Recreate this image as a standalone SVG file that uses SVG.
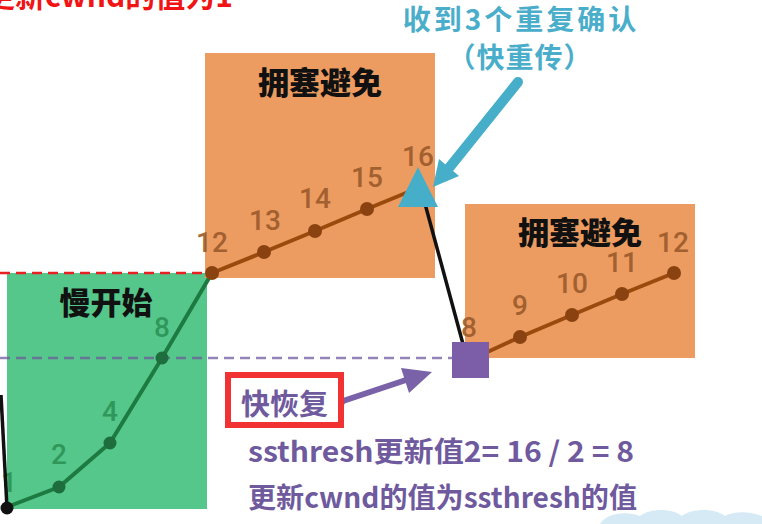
<svg xmlns="http://www.w3.org/2000/svg" width="762" height="524" viewBox="0 0 762 524">
<style>
.cjk{font-family:"Noto Sans CJK SC","Noto Sans",sans-serif;font-weight:700}
.title{font-size:31px;fill:#111;font-weight:900}
.num{font-family:Roboto,"Liberation Sans",sans-serif;font-weight:500;font-size:28px;text-anchor:middle}
.gnum{fill:#2a8f52;opacity:.85}
.bnum{fill:#9a5a2c;opacity:.9}
.gdot{fill:#1d6e3c}
.bdot{fill:#8a4310}
.purple{fill:#6f5a9e}
</style>
<rect width="762" height="524" fill="#fff"/>
<path d="M600 524 C605 514 625 510 640 516 C650 508 672 508 682 516 C692 508 715 508 725 516 C735 510 752 512 762 516 L762 524 Z" fill="#d6eaf6"/>
<text class="cjk" x="233" y="7" font-size="30" fill="#f01414" text-anchor="end">更新cwnd的值为1</text>

<g id="slow-start">
<rect x="7" y="273" width="200" height="236" fill="#55c78b"/>
<text class="cjk title" x="106" y="314" text-anchor="middle">慢开始</text>
<text class="num gnum" x="9" y="492" opacity=".5">1</text>
<text class="num gnum" x="59" y="464">2</text>
<text class="num gnum" x="110" y="421">4</text>
<text class="num gnum" x="162" y="337">8</text>
</g>

<g id="congestion-avoidance-1">
<rect x="205" y="53" width="230" height="225" fill="#ec9c60"/>
<text class="cjk title" x="320" y="94" text-anchor="middle">拥塞避免</text>
<text class="num bnum" x="212" y="252">12</text>
<text class="num bnum" x="265" y="230">13</text>
<text class="num bnum" x="315" y="208">14</text>
<text class="num bnum" x="367" y="187">15</text>
<text class="num bnum" x="418" y="166">16</text>
</g>

<g id="congestion-avoidance-2">
<rect x="465" y="204" width="230" height="154" fill="#ec9c60"/>
<text class="cjk title" x="580" y="244" text-anchor="middle">拥塞避免</text>
<text class="num bnum" x="469" y="337">8</text>
<text class="num bnum" x="520" y="315">9</text>
<text class="num bnum" x="572" y="293">10</text>
<text class="num bnum" x="622" y="272">11</text>
<text class="num bnum" x="673" y="252">12</text>
</g>

<g id="thresholds">
<line x1="0" y1="273" x2="207" y2="273" stroke="#e82222" stroke-width="2.5" stroke-dasharray="10 6"/>
<line x1="0" y1="358" x2="452" y2="358" stroke="#6f5a9e" stroke-opacity=".75" stroke-width="2.5" stroke-dasharray="10 6"/>
</g>

<g id="connectors">
<line x1="1" y1="395" x2="7" y2="508" stroke="#111" stroke-width="3.5"/>
<polyline points="7,507 59,487 110,443 162,358 212,273" fill="none" stroke="#1d7a40" stroke-width="4"/>
<polyline points="212,273 264,252 315,231 367,209 418,188" fill="none" stroke="#9b4a0e" stroke-width="4"/>
<line x1="424" y1="200" x2="463" y2="344" stroke="#111" stroke-width="3.5"/>
<polyline points="470,360 520,337 572,315 622,294 674,273" fill="none" stroke="#9b4a0e" stroke-width="4"/>
<line x1="518" y1="82" x2="449" y2="168" stroke="#47aec9" stroke-width="10" stroke-linecap="round"/>
<polygon points="433,187 459,176 439,159" fill="#47aec9"/>
<circle cx="340" cy="402" r="5" fill="#7a62a8"/>
<line x1="340" y1="402" x2="406" y2="380" stroke="#7a62a8" stroke-width="6"/>
<polygon points="432,372 409,393 401,368" fill="#7a62a8"/>
</g>

<g id="points">
<circle cx="7" cy="508" r="6.5" fill="#111"/>
<circle class="gdot" cx="59" cy="487" r="6.5"/>
<circle class="gdot" cx="110" cy="443" r="6.5"/>
<circle class="gdot" cx="162" cy="358" r="6.5"/>
<circle class="bdot" cx="212" cy="273" r="7"/>
<circle class="bdot" cx="264" cy="252" r="7"/>
<circle class="bdot" cx="315" cy="231" r="7"/>
<circle class="bdot" cx="367" cy="209" r="7"/>
<circle class="bdot" cx="520" cy="337" r="7"/>
<circle class="bdot" cx="572" cy="315" r="7"/>
<circle class="bdot" cx="622" cy="294" r="7"/>
<circle class="bdot" cx="674" cy="273" r="7"/>
<polygon id="dup-ack" points="418,167 398,207 438,207" fill="#47aec9"/>
<rect id="fast-recovery-point" x="452" y="342" width="37" height="36" fill="#7b5ea7"/>
</g>

<g id="dup-ack-label">
<text class="cjk" x="521" y="30" font-size="28" fill="#4aaecb" text-anchor="middle" letter-spacing="3">收到3个重复确认</text>
<text class="cjk" x="520" y="68" font-size="28" fill="#4aaecb" text-anchor="middle" letter-spacing="1">（快重传）</text>
</g>

<g id="fast-recovery-label">
<rect x="228" y="375" width="113" height="50" fill="#fff" stroke="#f03232" stroke-width="6"/>
<text class="cjk purple" x="241" y="415" font-size="29">快恢复</text>
</g>

<g id="notes">
<text class="cjk purple" x="248" y="462" font-size="28" textLength="386" lengthAdjust="spacingAndGlyphs">ssthresh更新值2= 16 / 2 = 8</text>
<text class="cjk purple" x="248" y="508" font-size="28" textLength="389" lengthAdjust="spacingAndGlyphs">更新cwnd的值为ssthresh的值</text>
</g>
</svg>
